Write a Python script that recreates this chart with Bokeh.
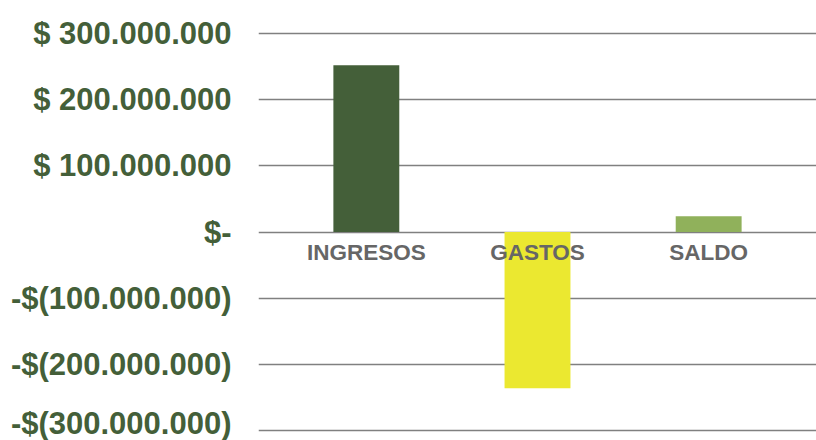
from bokeh.plotting import figure
from bokeh.models import FactorRange, Range1d, FixedTicker, ColumnDataSource
from bokeh.core.properties import value
from bokeh.embed import file_html
from bokeh.resources import INLINE

categories = ["INGRESOS", "GASTOS", "SALDO"]
amounts = [252_000_000, -236_000_000, 24_000_000]
bar_colors = ["#445f39", "#ebe830", "#90b15b"]
tick_values = [-300_000_000, -200_000_000, -100_000_000, 0, 100_000_000, 200_000_000, 300_000_000]
tick_labels = ["-$(300.000.000)", "-$(200.000.000)", "-$(100.000.000)", "$-",
               "$ 100.000.000", "$ 200.000.000", "$ 300.000.000"]

src = ColumnDataSource(dict(cat=categories, val=amounts, color=bar_colors,
                            zero=[0] * len(categories)))

p = figure(width=816, height=440, output_backend="svg", toolbar_location=None,
           x_range=FactorRange(factors=categories, range_padding=0.13,
                               range_padding_units="absolute"),
           y_range=Range1d(-315_000_000, 350_000_000),
           x_axis_location=None,
           min_border_left=258, min_border_right=0, min_border_top=0, min_border_bottom=0)
p.outline_line_color = None
p.background_fill_color = "white"
p.border_fill_color = "white"

p.vbar(x="cat", top="val", bottom="zero", width=0.385, fill_color="color",
       line_color=None, source=src)

p.xgrid.visible = False
p.ygrid.ticker = FixedTicker(ticks=tick_values)
p.ygrid.grid_line_color = "#808080"
p.ygrid.grid_line_width = 1.5

yax = p.yaxis[0]
yax.ticker = FixedTicker(ticks=tick_values)
yax.major_label_overrides = {v: l for v, l in zip(tick_values, tick_labels)}
yax.axis_line_color = None
yax.major_tick_line_color = None
yax.minor_tick_line_color = None
yax.major_label_standoff = 21
yax.major_label_text_font = "Liberation Sans"
yax.major_label_text_font_style = "bold"
yax.major_label_text_font_size = "31px"
yax.major_label_text_color = "#445f39"

p.text(x="cat", y="zero", text="cat", source=src, y_offset=8,
       text_align="center", text_baseline="top",
       text_font=value("Liberation Sans"), text_font_style="bold",
       text_font_size="22.5px", text_color="#666666")

open("out.html", "w").write(file_html(p, INLINE))
